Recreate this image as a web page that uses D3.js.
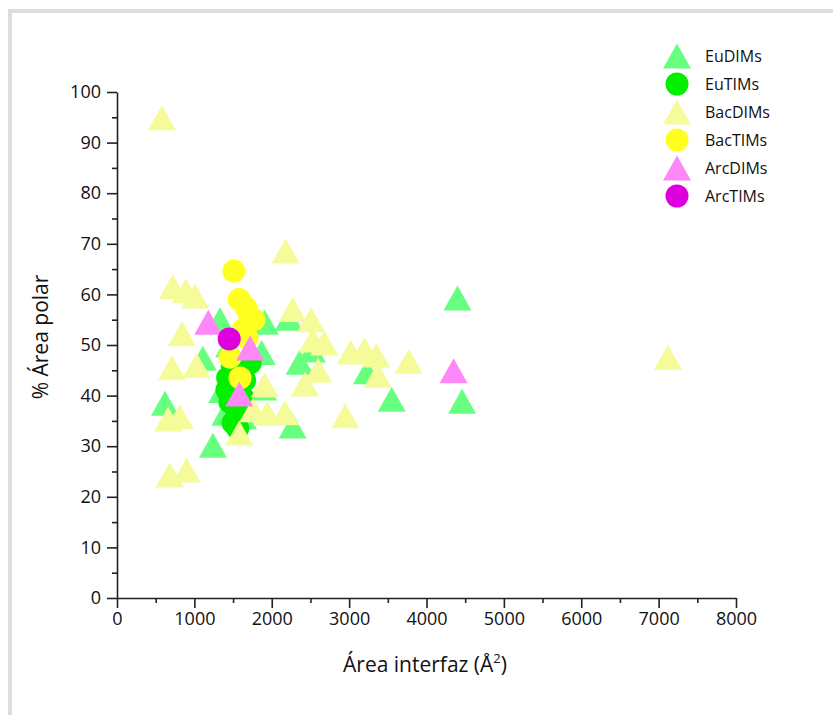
<!DOCTYPE html>
<html>
<head>
<meta charset="utf-8">
<script src="https://cdn.jsdelivr.net/npm/d3@7"></script>
<style>
body { margin: 0; background: #fff; }
text { font-family: "Comic Sans MS", "Open Sans", sans-serif; fill: #111; }
</style>
</head>
<body>
<svg id="chart"></svg>
<script>
// series: [interface area (Å²), % polar area]
var euDIMs = [
  [620, 38.5], [1240, 30.2], [1330, 55], [1110, 47.4], [1910, 54.5], [2220, 55.3],
  [2360, 46.6], [2520, 49], [3230, 44.7], [3550, 39.3], [4400, 59.3], [4460, 38.9],
  [2270, 34], [1400, 36.5], [1890, 41.5], [1450, 50], [1630, 35.8], [1360, 41], [1870, 48.5]
];
var euTIMs = [
  [1490, 45.7], [1720, 46.4], [1420, 41.1], [1460, 38.7], [1550, 36.6], [1500, 34.6],
  [1630, 39.5], [1650, 43], [1430, 43.5], [1560, 33.5]
];
var bacDIMs = [
  [580, 94.9], [720, 61.5], [890, 60.7], [1010, 59.7], [840, 52.2], [710, 45.5],
  [1030, 46], [660, 35.4], [810, 35.8], [680, 24.3], [900, 25.3], [2180, 68.6],
  [2270, 57], [2510, 55], [2530, 51], [2680, 50.4], [2600, 45], [2430, 42.3],
  [3020, 48.6], [3200, 49], [3350, 48], [3370, 44], [3770, 46.8], [7120, 47.6],
  [2950, 36], [2170, 36.6], [1580, 32.6], [1760, 37.2], [1940, 36.5], [1910, 42.1]
];
var bacTIMs = [
  [1510, 64.6], [1580, 59], [1670, 57.3], [1720, 55.5], [1770, 55], [1630, 53],
  [1680, 51.4], [1460, 47.6], [1590, 43.5]
];
var arcDIMs = [[1180, 54.5], [1720, 49.4], [1580, 40.3], [4350, 44.9]];
var arcTIMs = [[1450, 51.2]];

var seriesNames = ["EuDIMs", "EuTIMs", "BacDIMs", "BacTIMs", "ArcDIMs", "ArcTIMs"];
var xTicks = [0, 1000, 2000, 3000, 4000, 5000, 6000, 7000, 8000];
var yTicks = [0, 10, 20, 30, 40, 50, 60, 70, 80, 90, 100];

var series = [
  {name: seriesNames[0], data: euDIMs, shape: "tri", color: "#66ff80"},
  {name: seriesNames[1], data: euTIMs, shape: "circ", color: "#00f000"},
  {name: seriesNames[2], data: bacDIMs, shape: "tri", color: "#f4fb98"},
  {name: seriesNames[3], data: bacTIMs, shape: "circ", color: "#ffff22"},
  {name: seriesNames[4], data: arcDIMs, shape: "tri", color: "#ff88f8"},
  {name: seriesNames[5], data: arcTIMs, shape: "circ", color: "#dd00dd"}
];

var W = 833, H = 715;
var svg = d3.select("#chart").attr("width", W).attr("height", H);

// page frame
svg.append("rect")
  .attr("x", 10).attr("y", 11)
  .attr("width", 900).attr("height", 800)
  .attr("fill", "none").attr("stroke", "#dddddd").attr("stroke-width", 4);

var x = d3.scaleLinear().domain([0, 8000]).range([117, 736]);
var y = d3.scaleLinear().domain([0, 100]).range([598, 92]);

function triPath(w, h) {
  return "M0," + (-h / 2) + "L" + (w / 2) + "," + (h / 2) + "L" + (-w / 2) + "," + (h / 2) + "Z";
}

// points
series.forEach(function(s) {
  var g = svg.append("g").attr("class", "series");
  if (s.shape == "tri") {
    g.selectAll("path").data(s.data).enter().append("path")
      .attr("d", triPath(28, 25))
      .attr("transform", function(d) { return "translate(" + x(d[0]) + "," + y(d[1]) + ")"; })
      .attr("fill", s.color);
  } else {
    g.selectAll("circle").data(s.data).enter().append("circle")
      .attr("cx", function(d) { return x(d[0]); })
      .attr("cy", function(d) { return y(d[1]); })
      .attr("r", 11.5)
      .attr("fill", s.color);
  }
});

// axes
var minorX = d3.range(500, 8000, 1000);
var minorY = d3.range(5, 100, 10);

svg.append("g").attr("transform", "translate(0," + y(0) + ")")
  .call(d3.axisBottom(x).tickValues(xTicks).tickSize(10).tickSizeOuter(0).tickPadding(4).tickFormat(d3.format("d")));
svg.append("g").attr("transform", "translate(0," + y(0) + ")")
  .call(d3.axisBottom(x).tickValues(minorX).tickSize(5).tickFormat(""))
  .select(".domain").remove();

svg.append("g").attr("transform", "translate(" + x(0) + ",0)")
  .call(d3.axisLeft(y).tickValues(yTicks).tickSize(10).tickSizeOuter(0).tickPadding(6));
svg.append("g").attr("transform", "translate(" + x(0) + ",0)")
  .call(d3.axisLeft(y).tickValues(minorY).tickSize(5).tickFormat(""))
  .select(".domain").remove();

svg.selectAll(".domain, .tick line").attr("stroke", "#222").attr("stroke-width", 1.6);
svg.selectAll(".tick text").attr("font-size", 18).attr("font-family", null).style("fill", "#111");

svg.append("text")
  .attr("x", 425).attr("y", 672)
  .attr("text-anchor", "middle").attr("font-size", 21)
  .html("Área interfaz (Å<tspan dy='-9' font-size='13'>2</tspan><tspan dy='9'>)</tspan>");

svg.append("text")
  .attr("transform", "translate(48,337) rotate(-90)")
  .attr("text-anchor", "middle").attr("font-size", 21)
  .text("% Área polar");

// legend
var leg = svg.append("g").attr("transform", "translate(677,56)");
series.forEach(function(s, i) {
  var row = leg.append("g").attr("transform", "translate(0," + (i * 28) + ")");
  if (s.shape == "tri") {
    row.append("path").attr("d", triPath(28, 25)).attr("fill", s.color);
  } else {
    row.append("circle").attr("r", 11.5).attr("fill", s.color);
  }
  row.append("text").attr("x", 28).attr("y", 6).attr("font-size", 16).text(s.name);
});
</script>
</body>
</html>
